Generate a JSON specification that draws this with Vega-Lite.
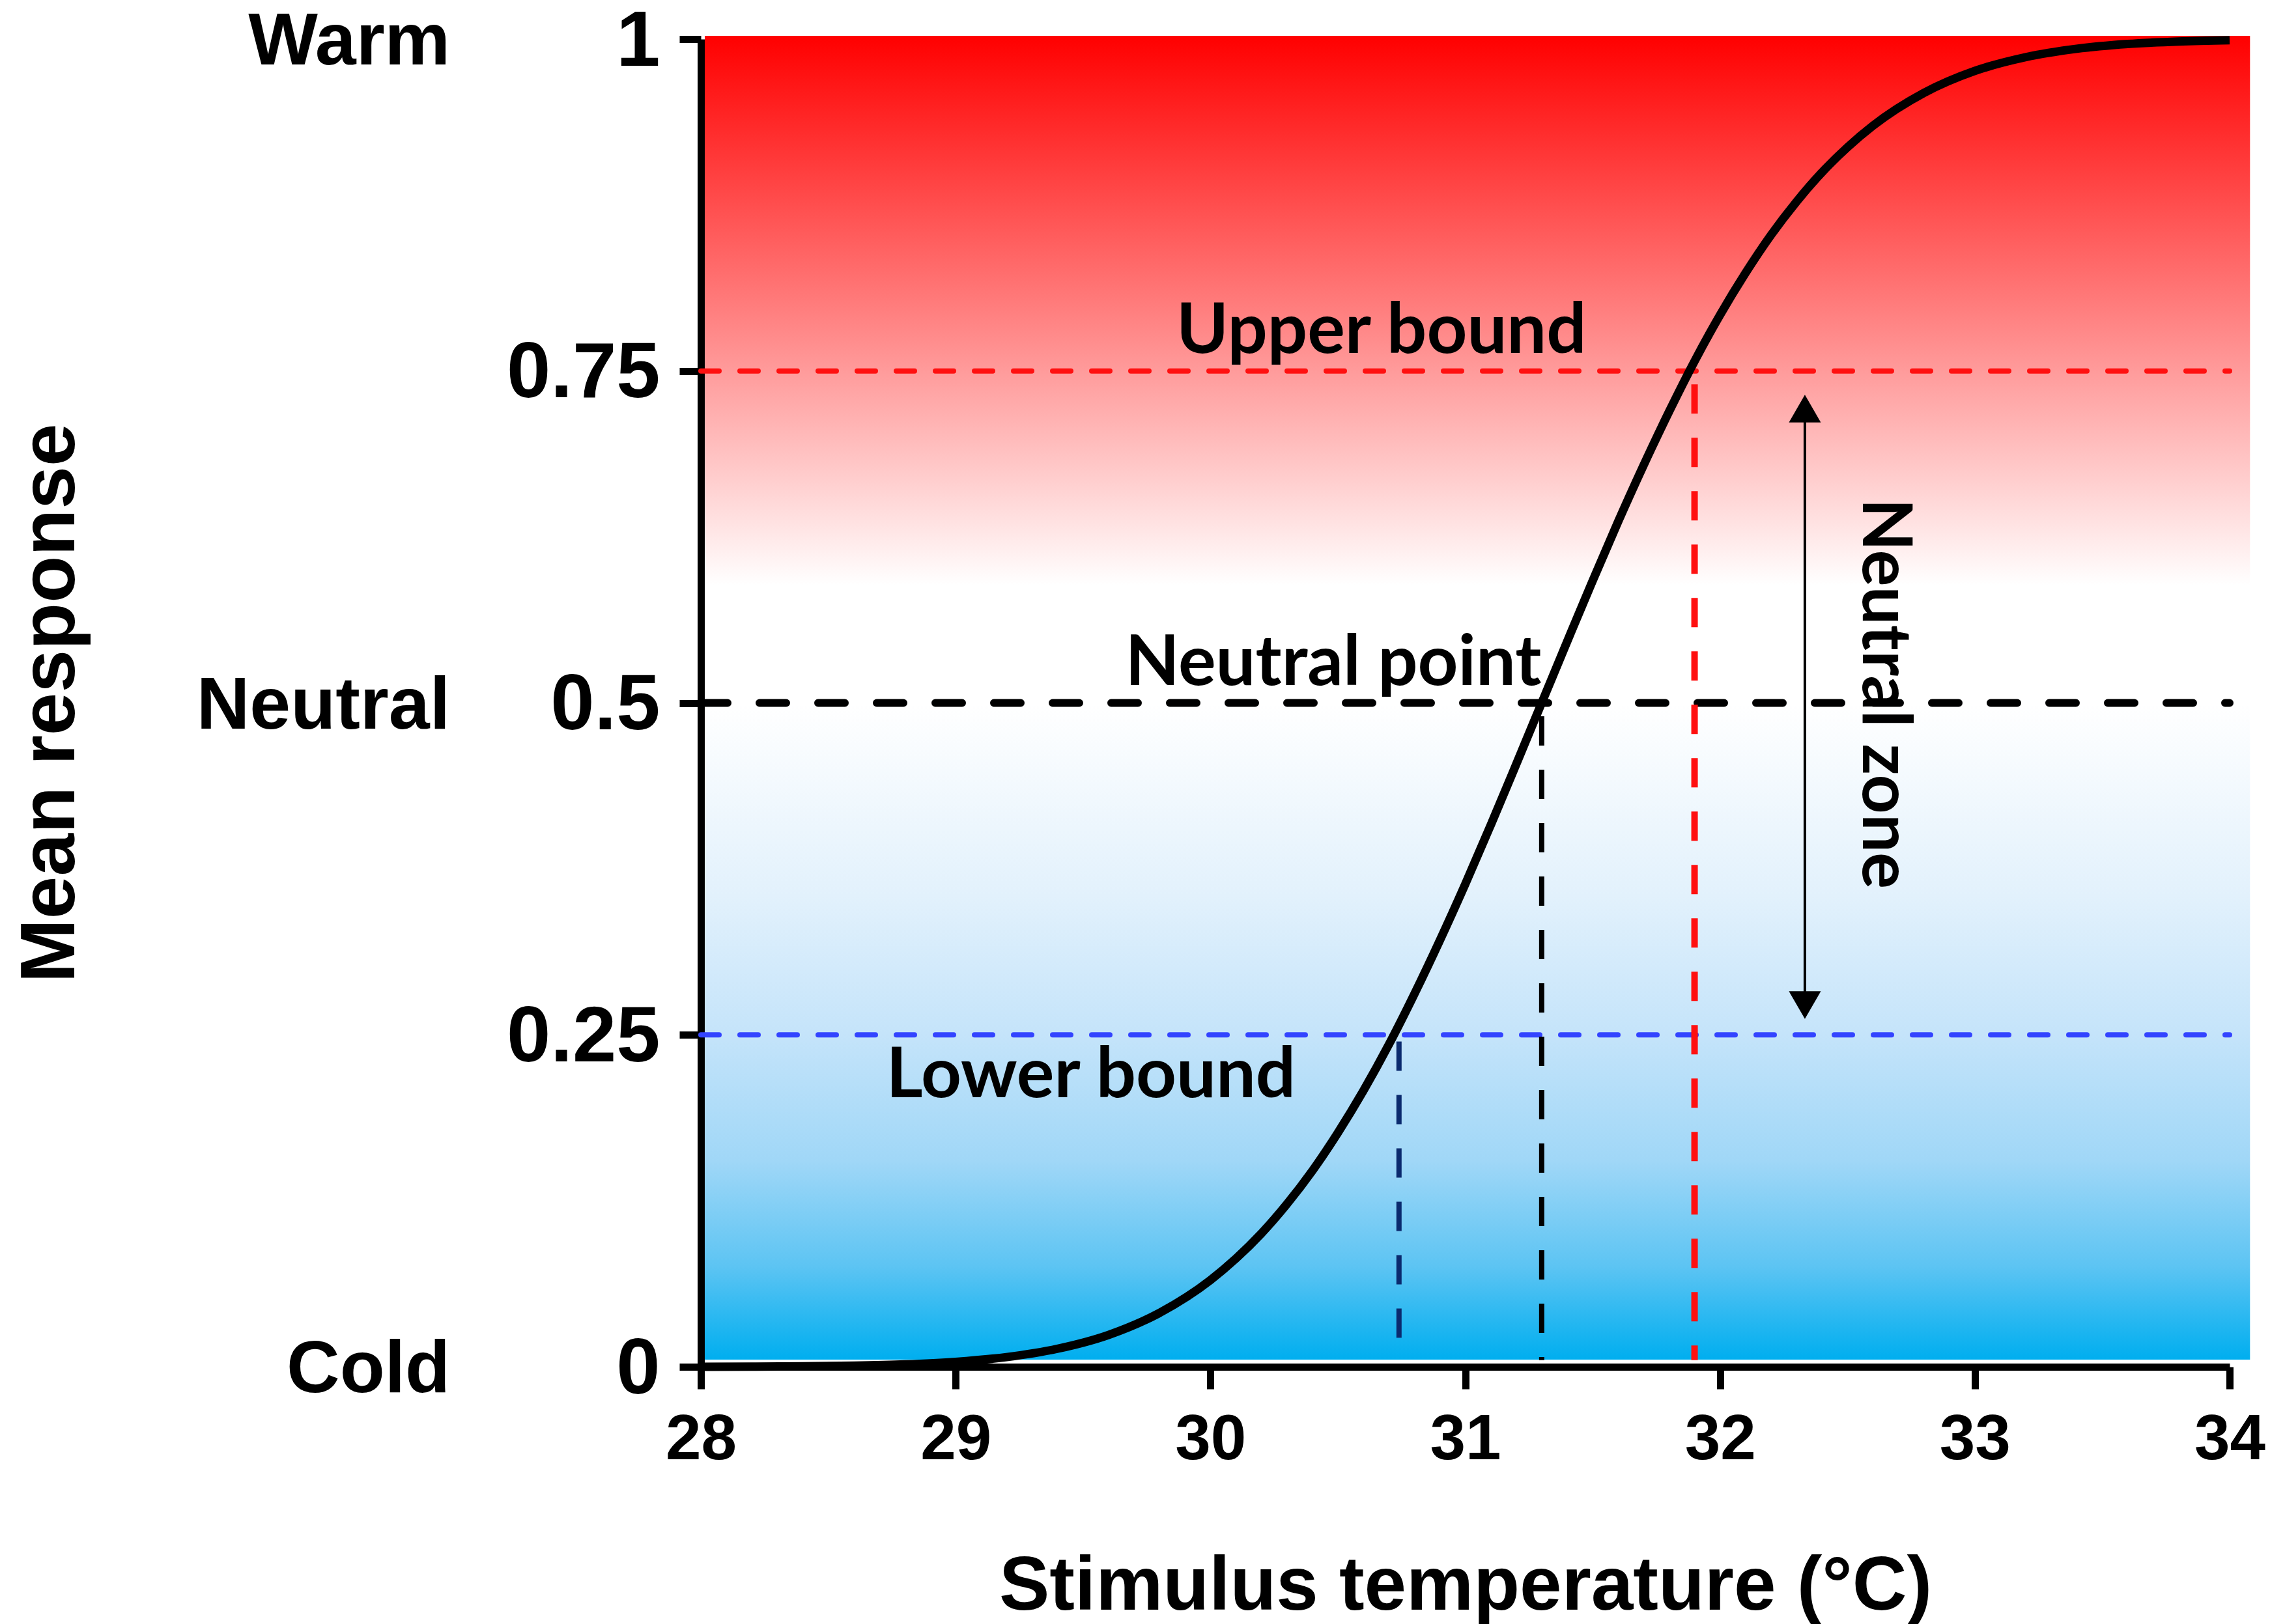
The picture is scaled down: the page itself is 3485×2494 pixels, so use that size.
{
  "$schema": "https://vega.github.io/schema/vega-lite/v6.json",
  "width": 2347,
  "height": 2039,
  "autosize": {"type": "none"},
  "padding": {"left": 1076, "top": 60, "right": 62, "bottom": 395},
  "background": "white",
  "config": {
    "view": {"stroke": null},
    "axis": {"ticks": true, "tickColor": "#000000", "tickWidth": 11, "tickOpacity": 1, "tickCap": "butt"}
  },
  "datasets": {
    "bg": [{"x0": 28.0153, "x1": 34.08, "y0": 0.0054, "y1": 1.0025}],
    "curve": [
      {"x": 28.0, "y": 0.00006}, {"x": 28.2, "y": 0.00016}, {"x": 28.4, "y": 0.00037},
      {"x": 28.6, "y": 0.00084}, {"x": 28.8, "y": 0.0018}, {"x": 29.0, "y": 0.0037},
      {"x": 29.2, "y": 0.0073}, {"x": 29.4, "y": 0.0136}, {"x": 29.6, "y": 0.024},
      {"x": 29.8, "y": 0.0406}, {"x": 30.0, "y": 0.0653}, {"x": 30.1, "y": 0.0815},
      {"x": 30.2, "y": 0.1004}, {"x": 30.3, "y": 0.1225}, {"x": 30.4, "y": 0.1476},
      {"x": 30.5, "y": 0.1762}, {"x": 30.6, "y": 0.2078}, {"x": 30.7, "y": 0.2426},
      {"x": 30.8, "y": 0.2806}, {"x": 30.9, "y": 0.321}, {"x": 31.0, "y": 0.3635},
      {"x": 31.1, "y": 0.408}, {"x": 31.2, "y": 0.4538}, {"x": 31.3, "y": 0.5},
      {"x": 31.4, "y": 0.5462}, {"x": 31.5, "y": 0.592}, {"x": 31.6, "y": 0.6365},
      {"x": 31.7, "y": 0.679}, {"x": 31.8, "y": 0.7194}, {"x": 31.9, "y": 0.7574},
      {"x": 32.0, "y": 0.7922}, {"x": 32.1, "y": 0.8238}, {"x": 32.2, "y": 0.8524},
      {"x": 32.3, "y": 0.8775}, {"x": 32.4, "y": 0.8996}, {"x": 32.5, "y": 0.9185},
      {"x": 32.6, "y": 0.9347}, {"x": 32.8, "y": 0.9594}, {"x": 33.0, "y": 0.976},
      {"x": 33.2, "y": 0.9864}, {"x": 33.4, "y": 0.9927}, {"x": 33.6, "y": 0.9963},
      {"x": 33.8, "y": 0.9982}, {"x": 34.0, "y": 0.9992}
    ],
    "bounds": [
      {"y": 0.75, "x0": 28, "x1": 34, "c": "#FF1010"},
      {"y": 0.25, "x0": 28, "x1": 34, "c": "#3344FF"}
    ],
    "neutral": [{"y": 0.5, "x0": 28, "x1": 34}],
    "verticals": [
      {"x": 30.74, "top": 0.245, "c": "#0B2A6E", "w": 8},
      {"x": 31.3, "top": 0.49, "c": "#000000", "w": 8},
      {"x": 31.9, "top": 0.74, "c": "#FF1010", "w": 10}
    ],
    "shaft": [{"x": 32.333, "y0": 0.272, "y1": 0.72}],
    "heads": [
      {"x": 32.333, "y": 0.7217, "shape": "triangle-up"},
      {"x": 32.333, "y": 0.2724, "shape": "triangle-down"}
    ],
    "labels": [
      {"x": 30.671, "y": 0.7636, "t": "Upper bound"},
      {"x": 30.482, "y": 0.5135, "t": "Neutral point"},
      {"x": 29.531, "y": 0.203, "t": "Lower bound"}
    ],
    "zone": [{"x": 32.56, "y": 0.507, "t": "Neutral zone"}],
    "cats": [
      {"y": 1, "t": "Warm"},
      {"y": 0.5, "t": "Neutral"},
      {"y": 0, "t": "Cold"}
    ]
  },
  "layer": [
    {
      "data": {"name": "bg"},
      "mark": {
        "type": "rect",
        "fill": {
          "gradient": "linear", "x1": 0, "y1": 0, "x2": 0, "y2": 1,
          "stops": [
            {"offset": 0, "color": "#FF0000"},
            {"offset": 0.2, "color": "#FF7A7A"},
            {"offset": 0.415, "color": "#FFFFFF"},
            {"offset": 0.505, "color": "#FFFFFF"},
            {"offset": 0.65, "color": "#E2F1FC"},
            {"offset": 0.753, "color": "#C5E4FA"},
            {"offset": 0.85, "color": "#A0D7F7"},
            {"offset": 0.93, "color": "#5CC4F3"},
            {"offset": 1, "color": "#00AEEF"}
          ]
        }
      },
      "encoding": {
        "x": {
          "field": "x0", "type": "quantitative",
          "scale": {"domain": [28, 34], "nice": false, "zero": false},
          "axis": {
            "values": [28, 29, 30, 31, 32, 33, 34], "format": "d",
            "grid": false,
            "domainColor": "black", "domainWidth": 11,
            "tickSize": 34,
            "labelFont": "Liberation Sans", "labelFontWeight": "bold", "labelFontSize": 98,
            "labelColor": "black", "labelPadding": 30, "labelFlush": false, "labelOverlap": false, "labelLimit": 0,
            "title": "Stimulus temperature (°C)",
            "titleFont": "Liberation Sans", "titleFontWeight": "bold", "titleFontSize": 116,
            "titleColor": "black", "titlePadding": 119, "titleLimit": 0
          }
        },
        "x2": {"field": "x1"},
        "y": {
          "field": "y0", "type": "quantitative",
          "scale": {"domain": [0, 1], "nice": false, "zero": false},
          "axis": {
            "values": [0, 0.25, 0.5, 0.75, 1], "format": ".2~f",
            "grid": false,
            "domainColor": "black", "domainWidth": 11,
            "tickSize": 33,
            "labelFont": "Liberation Sans", "labelFontWeight": "bold", "labelFontSize": 121,
            "labelColor": "black", "labelPadding": 30, "labelOffset": 4, "labelFlush": false, "labelOverlap": false, "labelLimit": 0,
            "title": "Mean response",
            "titleFont": "Liberation Sans", "titleFontWeight": "bold", "titleFontSize": 118,
            "titleColor": "black", "titlePadding": 738, "titleLimit": 0
          }
        },
        "y2": {"field": "y1"}
      }
    },
    {
      "data": {"name": "bounds"},
      "mark": {"type": "rule", "strokeWidth": 8, "strokeDash": [28, 32], "strokeCap": "round"},
      "encoding": {
        "y": {"field": "y", "type": "quantitative"},
        "x": {"field": "x0", "type": "quantitative"},
        "x2": {"field": "x1"},
        "color": {"field": "c", "type": "nominal", "scale": null}
      }
    },
    {
      "data": {"name": "neutral"},
      "mark": {"type": "rule", "strokeWidth": 12, "strokeDash": [41, 49], "strokeCap": "round", "color": "black"},
      "encoding": {
        "y": {"field": "y", "type": "quantitative"},
        "x": {"field": "x0", "type": "quantitative"},
        "x2": {"field": "x1"}
      }
    },
    {
      "data": {"name": "verticals"},
      "mark": {"type": "rule", "strokeDash": [45, 37]},
      "encoding": {
        "x": {"field": "x", "type": "quantitative"},
        "y": {"field": "top", "type": "quantitative"},
        "y2": {"datum": 0.005},
        "color": {"field": "c", "type": "nominal", "scale": null},
        "strokeWidth": {"field": "w", "type": "quantitative", "scale": null}
      }
    },
    {
      "data": {"name": "shaft"},
      "mark": {"type": "rule", "strokeWidth": 4, "color": "black"},
      "encoding": {
        "x": {"field": "x", "type": "quantitative"},
        "y": {"field": "y0", "type": "quantitative"},
        "y2": {"field": "y1"}
      }
    },
    {
      "data": {"name": "heads"},
      "mark": {"type": "point", "filled": true, "color": "black", "opacity": 1, "size": 2400, "strokeWidth": 0},
      "encoding": {
        "x": {"field": "x", "type": "quantitative"},
        "y": {"field": "y", "type": "quantitative"},
        "shape": {"field": "shape", "type": "nominal", "scale": null}
      }
    },
    {
      "data": {"name": "curve"},
      "mark": {"type": "line", "color": "black", "strokeWidth": 13, "interpolate": "monotone"},
      "encoding": {
        "x": {"field": "x", "type": "quantitative"},
        "y": {"field": "y", "type": "quantitative"}
      }
    },
    {
      "data": {"name": "labels"},
      "mark": {"type": "text", "font": "Lato", "fontWeight": "bold", "fontSize": 108, "color": "black", "align": "center", "baseline": "alphabetic"},
      "encoding": {
        "x": {"field": "x", "type": "quantitative"},
        "y": {"field": "y", "type": "quantitative"},
        "text": {"field": "t"}
      }
    },
    {
      "data": {"name": "zone"},
      "mark": {"type": "text", "font": "Lato", "fontWeight": "bold", "fontSize": 105, "color": "black", "align": "center", "baseline": "alphabetic", "angle": 90},
      "encoding": {
        "x": {"field": "x", "type": "quantitative"},
        "y": {"field": "y", "type": "quantitative"},
        "text": {"field": "t"}
      }
    },
    {
      "data": {"name": "cats"},
      "mark": {"type": "text", "font": "Liberation Sans", "fontWeight": "bold", "fontSize": 113, "color": "black", "align": "right", "baseline": "middle", "dy": 5},
      "encoding": {
        "x": {"datum": 27.016, "type": "quantitative"},
        "y": {"field": "y", "type": "quantitative"},
        "text": {"field": "t"}
      }
    }
  ]
}
